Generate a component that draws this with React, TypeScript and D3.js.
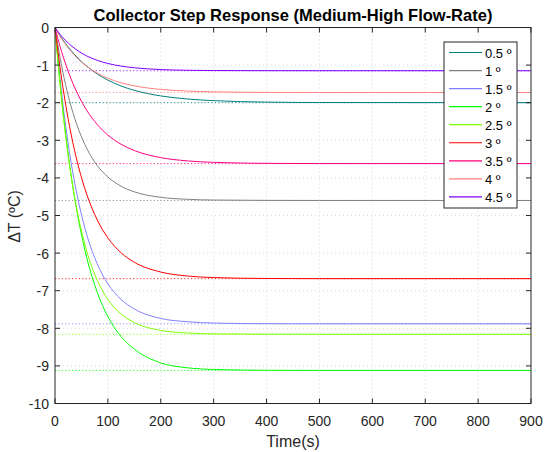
import React from "react";
import * as d3 from "d3";

const times = [0, 10, 20, 30, 45, 60, 80, 100, 125, 150, 200, 250, 300, 400, 500, 900];

const labels = ["0.5 º", "1 º", "1.5 º", "2 º", "2.5 º", "3 º", "3.5 º", "4 º", "4.5 º"];
const colors = ["#008080", "#808080", "#8080ff", "#00ff00", "#80ff00", "#ff0000", "#ff0080", "#ff8080", "#8000ff"];
const finals = [-2.0, -4.6, -7.88, -9.12, -8.16, -6.68, -3.62, -1.73, -1.15];

const s05 = [0, -0.227, -0.428, -0.606, -0.836, -1.03, -1.238, -1.4, -1.556, -1.672, -1.82, -1.901, -1.946, -1.984, -1.995, -2.0];
const s10 = [0, -0.834, -1.517, -2.076, -2.729, -3.215, -3.672, -3.977, -4.222, -4.371, -4.516, -4.569, -4.589, -4.598, -4.6, -4.6];
const s15 = [0, -1.426, -2.6, -3.554, -4.673, -5.508, -6.288, -6.816, -7.234, -7.486, -7.738, -7.825, -7.86, -7.878, -7.88, -7.88];
const s20 = [0, -1.541, -2.818, -3.885, -5.153, -6.12, -7.046, -7.689, -8.219, -8.553, -8.92, -9.05, -9.095, -9.117, -9.12, -9.12];
const s25 = [0, -1.591, -2.88, -3.909, -5.092, -5.949, -6.726, -7.232, -7.621, -7.847, -8.055, -8.124, -8.148, -8.158, -8.16, -8.16];
const s30 = [0, -1.109, -2.037, -2.806, -3.734, -4.436, -5.12, -5.596, -5.992, -6.243, -6.504, -6.609, -6.651, -6.675, -6.68, -6.68];
const s35 = [0, -0.525, -0.97, -1.354, -1.828, -2.201, -2.583, -2.861, -3.106, -3.272, -3.461, -3.547, -3.587, -3.613, -3.619, -3.62];
const s40 = [0, -0.244, -0.452, -0.631, -0.855, -1.033, -1.214, -1.349, -1.471, -1.552, -1.647, -1.69, -1.711, -1.726, -1.729, -1.73];
const s45 = [0, -0.189, -0.345, -0.477, -0.635, -0.756, -0.874, -0.957, -1.027, -1.071, -1.118, -1.137, -1.145, -1.149, -1.15, -1.15];

const series = [s05, s10, s15, s20, s25, s30, s35, s40, s45];

const xTicks = [0, 100, 200, 300, 400, 500, 600, 700, 800, 900];
const yTicks = [0, -1, -2, -3, -4, -5, -6, -7, -8, -9, -10];

const W = 544, H = 452;
const L = 55, R = 531, T = 27.5, B = 403.5;
const FONT = "'Liberation Sans', Arial, Helvetica, sans-serif";
const AX = "#262626";

export default function App() {
  const x = d3.scaleLinear().domain([0, 900]).range([L, R]);
  const y = d3.scaleLinear().domain([-10, 0]).range([B, T]);
  const line = d3
    .line<number>()
    .x((_, i) => x(times[i]))
    .y((d) => y(d))
    .curve(d3.curveMonotoneX);

  const legX = 444, legY = 42, legW = 73, legH = 166, rowH = 18.05;

  return (
    <svg
      width={W}
      height={H}
      style={{ position: "absolute", left: 0, top: 0, background: "#fff" }}
      fontFamily={FONT}
    >
      <rect x={0} y={0} width={W} height={H} fill="#fff" />
      <rect x={L} y={T} width={R - L} height={B - T} fill="#fff" />
      {/* grid */}
      {xTicks.slice(1, -1).map((t) => (
        <line key={"gx" + t} x1={x(t)} x2={x(t)} y1={T} y2={B} stroke="#d9d9d9" strokeDasharray="1,3" strokeWidth={1} />
      ))}
      {yTicks.slice(1, -1).map((t) => (
        <line key={"gy" + t} x1={L} x2={R} y1={y(t)} y2={y(t)} stroke="#d9d9d9" strokeDasharray="1,3" strokeWidth={1} />
      ))}
      {/* dotted asymptotes */}
      {finals.map((f, i) => (
        <line key={"f" + i} x1={x(0)} x2={x(900)} y1={y(f)} y2={y(f)} stroke={colors[i]} strokeOpacity={0.85} strokeDasharray="1.2,2.2" strokeWidth={1} />
      ))}
      {/* curves */}
      <defs>
        <clipPath id="clip">
          <rect x={L} y={T - 1} width={R - L} height={B - T + 2} />
        </clipPath>
      </defs>
      <g clipPath="url(#clip)">
        {series.map((s, i) => (
          <path key={"s" + i} d={line(s) || ""} fill="none" stroke={colors[i]} strokeWidth={1} />
        ))}
      </g>
      {/* axes box */}
      <rect x={L} y={T} width={R - L} height={B - T} fill="none" stroke={AX} strokeWidth={1} />
      {xTicks.map((t) => (
        <g key={"xt" + t}>
          <line x1={x(t)} x2={x(t)} y1={B} y2={B - 5} stroke={AX} />
          <line x1={x(t)} x2={x(t)} y1={T} y2={T + 5} stroke={AX} />
          <text x={x(t)} y={B + 22} textAnchor="middle" fontSize={14} fill={AX}>{t}</text>
        </g>
      ))}
      {yTicks.map((t) => (
        <g key={"yt" + t}>
          <line x1={L} x2={L + 5} y1={y(t)} y2={y(t)} stroke={AX} />
          <line x1={R} x2={R - 5} y1={y(t)} y2={y(t)} stroke={AX} />
          <text x={L - 6} y={y(t) + 5.5} textAnchor="end" fontSize={14} fill={AX}>{t}</text>
        </g>
      ))}
      {/* title and labels */}
      <text x={(L + R) / 2} y={20.5} textAnchor="middle" fontSize={16.5} fontWeight="bold" fill="#000">
        Collector Step Response (Medium-High Flow-Rate)
      </text>
      <text x={(L + R) / 2} y={447} textAnchor="middle" fontSize={16} fill={AX}>Time(s)</text>
      <text transform={`translate(20,${(T + B) / 2 + 1}) rotate(-90)`} textAnchor="middle" fontSize={16} fill={AX}>
        ΔT (ºC)
      </text>
      {/* legend */}
      <rect x={legX} y={legY} width={legW} height={legH} fill="#fff" stroke={AX} strokeWidth={1} />
      {labels.map((lab, i) => {
        const ry = legY + 10.5 + i * rowH;
        return (
          <g key={"lg" + i}>
            <line x1={legX + 5} x2={legX + 38} y1={ry} y2={ry} stroke={colors[i]} strokeWidth={1.2} />
            <text x={legX + 41} y={ry + 5} fontSize={13} fill="#000">{lab}</text>
          </g>
        );
      })}
    </svg>
  );
}
